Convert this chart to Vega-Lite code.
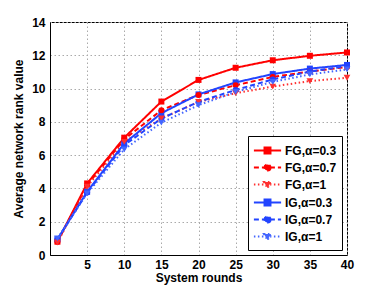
{
  "$schema": "https://vega.github.io/schema/vega-lite/v6.json",
  "width": 297,
  "height": 233,
  "autosize": "none",
  "padding": {"left": 50, "top": 22, "right": 35, "bottom": 32},
  "background": "white",
  "config": {
    "font": "Liberation Sans",
    "view": {"stroke": "black", "strokeWidth": 1},
    "axis": {
      "labelFont": "Liberation Sans", "labelFontWeight": "bold", "labelFontSize": 12, "labelColor": "black",
      "titleFont": "Liberation Sans", "titleFontWeight": "bold", "titleFontSize": 12, "titleColor": "black",
      "domainColor": "black", "tickColor": "#555", "tickSize": 0,
      "gridColor": "#aaa", "gridDash": [1.5, 2.5], "gridWidth": 1, "gridOpacity": 1
    }
  },
  "data": {
    "values": [
      {"x": 1, "y": 0.8, "s": "FG,α=0.3"}, {"x": 5, "y": 4.3, "s": "FG,α=0.3"}, {"x": 10, "y": 7.05, "s": "FG,α=0.3"}, {"x": 15, "y": 9.22, "s": "FG,α=0.3"}, {"x": 20, "y": 10.52, "s": "FG,α=0.3"}, {"x": 25, "y": 11.25, "s": "FG,α=0.3"}, {"x": 30, "y": 11.7, "s": "FG,α=0.3"}, {"x": 35, "y": 11.97, "s": "FG,α=0.3"}, {"x": 40, "y": 12.17, "s": "FG,α=0.3"},
      {"x": 1, "y": 0.8, "s": "FG,α=0.7"}, {"x": 5, "y": 4.2, "s": "FG,α=0.7"}, {"x": 10, "y": 6.95, "s": "FG,α=0.7"}, {"x": 15, "y": 8.7, "s": "FG,α=0.7"}, {"x": 20, "y": 9.62, "s": "FG,α=0.7"}, {"x": 25, "y": 10.2, "s": "FG,α=0.7"}, {"x": 30, "y": 10.7, "s": "FG,α=0.7"}, {"x": 35, "y": 11.02, "s": "FG,α=0.7"}, {"x": 40, "y": 11.3, "s": "FG,α=0.7"},
      {"x": 1, "y": 0.75, "s": "FG,α=1"}, {"x": 5, "y": 4.1, "s": "FG,α=1"}, {"x": 10, "y": 6.8, "s": "FG,α=1"}, {"x": 15, "y": 8.2, "s": "FG,α=1"}, {"x": 20, "y": 9.2, "s": "FG,α=1"}, {"x": 25, "y": 9.72, "s": "FG,α=1"}, {"x": 30, "y": 10.12, "s": "FG,α=1"}, {"x": 35, "y": 10.45, "s": "FG,α=1"}, {"x": 40, "y": 10.65, "s": "FG,α=1"},
      {"x": 1, "y": 0.95, "s": "IG,α=0.3"}, {"x": 5, "y": 3.8, "s": "IG,α=0.3"}, {"x": 10, "y": 6.7, "s": "IG,α=0.3"}, {"x": 15, "y": 8.52, "s": "IG,α=0.3"}, {"x": 20, "y": 9.65, "s": "IG,α=0.3"}, {"x": 25, "y": 10.37, "s": "IG,α=0.3"}, {"x": 30, "y": 10.87, "s": "IG,α=0.3"}, {"x": 35, "y": 11.2, "s": "IG,α=0.3"}, {"x": 40, "y": 11.42, "s": "IG,α=0.3"},
      {"x": 1, "y": 0.95, "s": "IG,α=0.7"}, {"x": 5, "y": 3.75, "s": "IG,α=0.7"}, {"x": 10, "y": 6.6, "s": "IG,α=0.7"}, {"x": 15, "y": 8.2, "s": "IG,α=0.7"}, {"x": 20, "y": 9.2, "s": "IG,α=0.7"}, {"x": 25, "y": 9.92, "s": "IG,α=0.7"}, {"x": 30, "y": 10.55, "s": "IG,α=0.7"}, {"x": 35, "y": 11.02, "s": "IG,α=0.7"}, {"x": 40, "y": 11.35, "s": "IG,α=0.7"},
      {"x": 1, "y": 1.0, "s": "IG,α=1"}, {"x": 5, "y": 3.7, "s": "IG,α=1"}, {"x": 10, "y": 6.35, "s": "IG,α=1"}, {"x": 15, "y": 7.95, "s": "IG,α=1"}, {"x": 20, "y": 9.0, "s": "IG,α=1"}, {"x": 25, "y": 9.8, "s": "IG,α=1"}, {"x": 30, "y": 10.4, "s": "IG,α=1"}, {"x": 35, "y": 10.85, "s": "IG,α=1"}, {"x": 40, "y": 11.15, "s": "IG,α=1"}
    ]
  },
  "encoding": {
    "x": {"field": "x", "type": "quantitative", "title": "System rounds",
      "scale": {"domain": [0, 40], "nice": false},
      "axis": {"values": [5, 10, 15, 20, 25, 30, 35, 40], "labelPadding": 4, "titlePadding": 2, "labelFlush": false}},
    "y": {"field": "y", "type": "quantitative", "title": "Average network rank value",
      "scale": {"domain": [0, 14], "nice": false},
      "axis": {"values": [0, 2, 4, 6, 8, 10, 12, 14], "labelPadding": 5, "titlePadding": 6, "labelFlush": false}},
    "color": {"field": "s", "type": "nominal",
      "scale": {"domain": ["FG,α=0.3", "FG,α=0.7", "FG,α=1", "IG,α=0.3", "IG,α=0.7", "IG,α=1"],
                "range": ["#ff0000", "#ff0000", "#ff3030", "#2244ff", "#2244ff", "#4466ff"]},
      "legend": {
        "title": null, "orient": "bottom-right", "offset": 5,
        "strokeColor": "black", "fillColor": "white", "padding": 5, "cornerRadius": 0,
        "labelFont": "Liberation Sans", "labelFontWeight": "bold", "labelFontSize": 12, "labelColor": "black",
        "symbolSize": 289, "symbolStrokeWidth": 1.8, "rowPadding": 0, "labelOffset": 8, "symbolOffset": 5
      }
    },
    "strokeDash": {"field": "s", "type": "nominal",
      "scale": {"domain": ["FG,α=0.3", "FG,α=0.7", "FG,α=1", "IG,α=0.3", "IG,α=0.7", "IG,α=1"],
                "range": [[1, 0], [5, 3], [1.5, 2.5], [1, 0], [5, 3], [1.5, 2.5]]}}
  },
  "layer": [
    {
      "mark": {"type": "line", "clip": true},
      "encoding": {
        "strokeWidth": {"field": "s", "type": "nominal", "legend": null,
          "scale": {"domain": ["FG,α=0.3", "FG,α=0.7", "FG,α=1", "IG,α=0.3", "IG,α=0.7", "IG,α=1"],
                    "range": [2, 2, 1.5, 2, 2, 1.5]}}
      }
    },
    {
      "transform": [{"filter": "datum.x < 0"}],
      "mark": {"type": "point", "filled": true, "opacity": 1},
      "encoding": {
        "shape": {"field": "s", "type": "nominal",
          "scale": {"domain": ["FG,α=0.3", "FG,α=0.7", "FG,α=1", "IG,α=0.3", "IG,α=0.7", "IG,α=1"],
                    "range": ["M-1.6,0H1.6M-0.35,-0.35H0.35V0.35H-0.35Z", "M-1.6,0H1.6M0.36,0A0.36,0.36,0,1,1,-0.36,0A0.36,0.36,0,1,1,0.36,0Z", "M-1.6,0H1.6M-0.42,-0.3H0.42L0,0.42Z", "M-1.6,0H1.6M-0.35,-0.35H0.35V0.35H-0.35Z", "M-1.6,0H1.6M0.36,0A0.36,0.36,0,1,1,-0.36,0A0.36,0.36,0,1,1,0.36,0Z", "M-1.6,0H1.6M-0.42,-0.3H0.42L0,0.42Z"]}}
      }
    },
    {
      "transform": [{"filter": "indexof(datum.s, '0.3') >= 0"}],
      "mark": {"type": "point", "filled": true, "size": 36, "opacity": 1, "shape": "square"},
      "encoding": {}
    },
    {
      "transform": [{"filter": "indexof(datum.s, '0.7') >= 0"}],
      "mark": {"type": "point", "filled": true, "size": 36, "opacity": 1, "shape": "circle"},
      "encoding": {}
    },
    {
      "transform": [{"filter": "indexof(datum.s, '=1') >= 0"}],
      "mark": {"type": "point", "filled": true, "size": 45, "opacity": 1, "shape": "triangle-down"},
      "encoding": {}
    }
  ]
}
